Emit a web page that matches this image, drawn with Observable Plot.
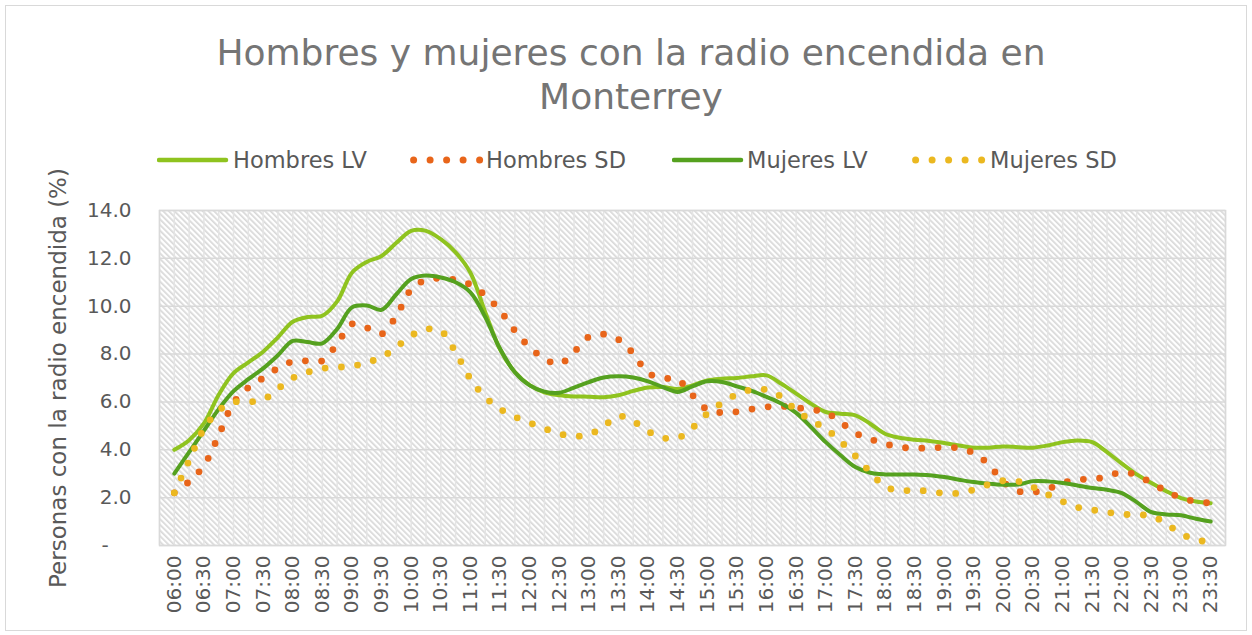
<!DOCTYPE html>
<html><head><meta charset="utf-8">
<script src="https://cdn.jsdelivr.net/npm/d3@7"></script>
<script src="https://cdn.jsdelivr.net/npm/@observablehq/plot@0.6"></script>
<style>
body{margin:0;background:#fff;font-family:"DejaVu Sans",sans-serif;}
#wrap{position:relative;width:1252px;height:635px;overflow:hidden;background:#fff;}
#border{position:absolute;left:5px;top:5px;width:1240px;height:624px;border:1.5px solid #d9d9d9;}
#title{position:absolute;left:0;width:1262px;top:31px;text-align:center;font-size:36px;line-height:44px;color:#757575;}
.sw{position:absolute;top:147px;}
.lt{position:absolute;top:146px;font-size:22.5px;line-height:28px;color:#595959;white-space:nowrap;}
#ylab{position:absolute;left:58px;top:378px;transform:translate(-50%,-50%) rotate(-90deg);white-space:nowrap;font-size:23px;color:#595959;}
#chart{position:absolute;left:0;top:185px;}
</style></head><body>
<div id="wrap">
  <div id="border"></div>
  <div id="title">Hombres y mujeres con la radio encendida en<br>Monterrey</div>
  <div id="legend"></div>
  <div id="ylab">Personas con la radio encendida (%)</div>
  <div id="chart"></div>
</div>
<script>
// ---- Data (every 15 minutes, 06:00 - 23:30) ----
const times = ["06:00","06:15","06:30","06:45","07:00","07:15","07:30","07:45","08:00","08:15","08:30","08:45",
"09:00","09:15","09:30","09:45","10:00","10:15","10:30","10:45","11:00","11:15","11:30","11:45",
"12:00","12:15","12:30","12:45","13:00","13:15","13:30","13:45","14:00","14:15","14:30","14:45",
"15:00","15:15","15:30","15:45","16:00","16:15","16:30","16:45","17:00","17:15","17:30","17:45",
"18:00","18:15","18:30","18:45","19:00","19:15","19:30","19:45","20:00","20:15","20:30","20:45",
"21:00","21:15","21:30","21:45","22:00","22:15","22:30","22:45","23:00","23:15","23:30"];

const hombresLV = [4.0,4.4,5.1,6.3,7.2,7.65,8.1,8.7,9.35,9.55,9.6,10.2,
11.4,11.85,12.1,12.65,13.15,13.15,12.8,12.25,11.4,9.75,8.2,7.25,
6.7,6.4,6.28,6.23,6.22,6.2,6.28,6.46,6.6,6.62,6.54,6.69,
6.9,6.97,7.0,7.07,7.11,6.76,6.35,5.93,5.58,5.51,5.44,5.09,
4.67,4.5,4.42,4.37,4.28,4.18,4.09,4.09,4.14,4.11,4.09,4.18,
4.32,4.39,4.32,3.9,3.42,2.97,2.61,2.27,1.98,1.84,1.77];

const hombresSD = [2.2,2.67,3.34,4.6,5.96,6.6,7.0,7.41,7.69,7.72,7.72,8.43,
9.26,9.1,8.84,9.6,10.7,11.1,11.17,11.1,10.9,10.45,9.82,8.98,
8.29,7.81,7.58,8.09,8.72,8.83,8.61,8.02,7.21,7.0,6.93,6.28,
5.68,5.55,5.59,5.7,5.79,5.82,5.76,5.68,5.56,5.16,4.7,4.45,
4.25,4.11,4.07,4.07,4.1,4.07,3.86,3.39,2.65,2.27,2.23,2.37,
2.61,2.76,2.76,2.89,3.07,2.94,2.61,2.27,1.99,1.84,1.77];

const mujeresLV = [3.0,3.9,4.8,5.7,6.45,6.95,7.4,7.95,8.55,8.5,8.45,9.05,
9.95,10.03,9.85,10.5,11.14,11.28,11.2,11.0,10.58,9.55,8.22,7.24,
6.69,6.43,6.38,6.6,6.83,7.02,7.07,7.02,6.86,6.62,6.42,6.65,
6.86,6.83,6.65,6.46,6.21,5.93,5.54,4.95,4.32,3.77,3.28,3.04,
2.97,2.97,2.97,2.94,2.86,2.75,2.65,2.58,2.54,2.55,2.69,2.68,
2.61,2.51,2.4,2.33,2.19,1.81,1.39,1.3,1.26,1.12,1.0];

const mujeresSD = [2.2,3.55,4.87,5.64,5.99,6.0,6.09,6.55,7.0,7.24,7.4,7.45,
7.49,7.65,7.87,8.29,8.77,9.04,8.97,8.08,6.96,6.2,5.71,5.38,
5.13,4.89,4.67,4.57,4.63,4.98,5.41,5.19,4.77,4.5,4.49,4.92,
5.51,5.96,6.32,6.51,6.51,6.21,5.65,5.23,4.88,4.35,3.74,3.07,
2.47,2.29,2.32,2.26,2.18,2.19,2.33,2.55,2.71,2.68,2.44,2.13,
1.84,1.6,1.49,1.39,1.31,1.28,1.24,0.91,0.49,0.24,0.14];

const tickLabels = ["06:00","06:30","07:00","07:30","08:00","08:30","09:00","09:30","10:00","10:30",
"11:00","11:30","12:00","12:30","13:00","13:30","14:00","14:30","15:00","15:30","16:00","16:30",
"17:00","17:30","18:00","18:30","19:00","19:30","20:00","20:30","21:00","21:30","22:00","22:30",
"23:00","23:30"];
const yTicks = [0,2,4,6,8,10,12,14];

const seriesNames = ["Hombres LV","Hombres SD","Mujeres LV","Mujeres SD"];
const seriesColors = ["#8fc31f","#e8651a","#55a11f","#ebb820"];
const seriesDotted = [false,true,false,true];
const seriesValues = [hombresLV,hombresSD,mujeresLV,mujeresSD];

// ---- helpers ----
const toMin = s => { const [h,m] = s.split(":").map(Number); return h*60+m; };
const fmt = m => { const h = Math.floor(m/60), mm = m%60; return String(h).padStart(2,"0")+":"+String(mm).padStart(2,"0"); };

const rows = seriesNames.map((name,i) => times.map((t,k) => ({series:name, t:toMin(t), v:seriesValues[i][k]})));

const xMin = toMin(times[0]) - 15, xMax = toMin(times[times.length-1]) + 15;
const vgrid = d3.range(xMin, xMax + 1, 15);

const lineMarks = rows.map((data,i) => seriesDotted[i]
  ? Plot.line(data, {x:"t", y:"v", stroke: seriesColors[i], strokeWidth: 6.8, strokeDasharray: "0 16.3", strokeLinecap: "round", curve: "catmull-rom"})
  : Plot.line(data, {x:"t", y:"v", stroke: seriesColors[i], strokeWidth: 4, strokeLinecap: "round", curve: "catmull-rom"}));

const chart = Plot.plot({
  width: 1252, height: 450,
  marginLeft: 159, marginRight: 27, marginTop: 25, marginBottom: 90,
  style: {fontFamily: "DejaVu Sans", fontSize: "20px", color: "#595959", overflow: "visible", background: "transparent"},
  x: {type: "linear", domain: [xMin, xMax]},
  y: {domain: [0, 14]},
  marks: [
    Plot.frame({fill: "url(#hatch)", stroke: "none"}),
    Plot.ruleX(vgrid, {stroke: "#e4e4e4", strokeWidth: 1.5}),
    Plot.ruleY(yTicks, {stroke: "#d9d9d9", strokeWidth: 1.5}),
    Plot.frame({stroke: "#d9d9d9", strokeWidth: 1.5}),
    Plot.axisX(tickLabels.map(toMin), {tickFormat: fmt, tickRotate: -90, tickSize: 0, tickPadding: 10, fontSize: 20, label: null, fill: "#595959"}),
    Plot.axisY(yTicks, {tickFormat: d => d === 0 ? "-\u2007\u2002" : d.toFixed(1), tickSize: 0, tickPadding: 28, fontSize: 20, label: null, fill: "#595959"}),
    ...lineMarks
  ]
});

const defs = d3.select(chart).insert("defs", ":first-child");
const pat = defs.append("pattern").attr("id","hatch").attr("patternUnits","userSpaceOnUse")
  .attr("width",4).attr("height",4).attr("patternTransform","rotate(-45)");
pat.append("rect").attr("width",4).attr("height",4).attr("fill","#ffffff");
pat.append("rect").attr("width",1.7).attr("height",4).attr("fill","#d8d8d8");

document.getElementById("chart").appendChild(chart);

// ---- legend ----
const legend = document.getElementById("legend");
const swX = [157, 410, 672, 912];
const txX = [233, 486, 747, 990];
seriesNames.forEach((name,i) => {
  const ns = "http://www.w3.org/2000/svg";
  const svg = document.createElementNS(ns, "svg");
  svg.setAttribute("width", 74); svg.setAttribute("height", 26);
  svg.setAttribute("class","sw");
  svg.style.left = swX[i] + "px";
  if (seriesDotted[i]) {
    for (let j = 0; j < 5; j++) {
      const c = document.createElementNS(ns, "circle");
      c.setAttribute("cx", 3.6 + j*16.5); c.setAttribute("cy", 13); c.setAttribute("r", 3.5);
      c.setAttribute("fill", seriesColors[i]);
      svg.appendChild(c);
    }
  } else {
    const l = document.createElementNS(ns, "line");
    l.setAttribute("x1", 2); l.setAttribute("x2", 69); l.setAttribute("y1", 13); l.setAttribute("y2", 13);
    l.setAttribute("stroke", seriesColors[i]); l.setAttribute("stroke-width", 4.5); l.setAttribute("stroke-linecap","round");
    svg.appendChild(l);
  }
  legend.appendChild(svg);
  const t = document.createElement("div");
  t.className = "lt"; t.style.left = txX[i] + "px"; t.textContent = name;
  legend.appendChild(t);
});
</script>
</body></html>
